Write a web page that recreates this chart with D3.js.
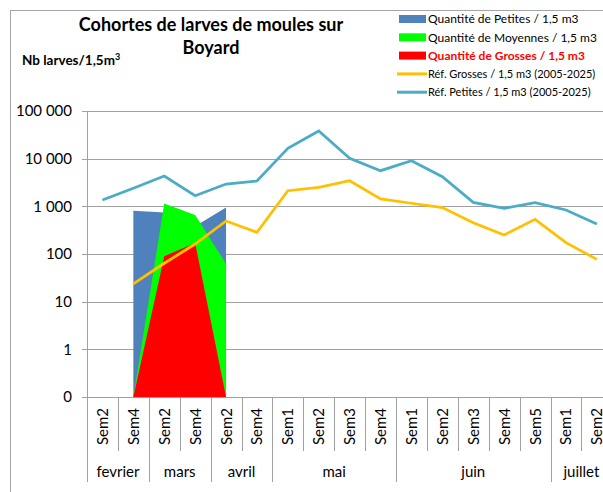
<!DOCTYPE html>
<meta charset="utf-8">
<script src="https://d3js.org/d3.v7.min.js"></script>
<style>
  body { margin: 0; background: #fff; }
  text { font-family: Lato, "Open Sans", sans-serif; fill: #000; }
</style>
<body>
<svg width="603" height="492"></svg>
<script>
  // categories
  var weeks = ["Sem2", "Sem4", "Sem2", "Sem4", "Sem2", "Sem4", "Sem1", "Sem2", "Sem3", "Sem4",
    "Sem1", "Sem2", "Sem3", "Sem4", "Sem5", "Sem1", "Sem2"];
  var months = ["fevrier", "mars", "avril", "mai", "juin", "juillet"];
  var monthWeeks = [2, 2, 2, 4, 5, 2];

  // series (null = no value)
  var petites = [null, 810, 740, 380, 950, null, null, null, null, null, null, null, null, null, null, null, null];
  var moyennes = [null, 0, 1150, 660, 62, null, null, null, null, null, null, null, null, null, null, null, null];
  var grosses = [null, 0, 90, 170, 0, null, null, null, null, null, null, null, null, null, null, null, null];
  var refGrosses = [null, 23.5, 64, 162, 492, 285, 2130, 2500, 3450, 1430, 1160, 940, 454, 250, 534, 173, 77];
  var refPetites = [1360, 2400, 4330, 1670, 2940, 3400, 16500, 38000, 10200, 5600, 9060, 4190, 1210, 910, 1190, 840, 425];

  var yTicks = [0.1, 1, 10, 100, 1000, 10000, 100000];
  var yTickLabels = ["0", "1", "10", "100", "1 000", "10 000", "100 000"];

  var svg = d3.select("svg");

  // chart frame
  svg.append("rect")
    .attr("x", 10.5).attr("y", 10.5)
    .attr("width", 700).attr("height", 600)
    .attr("fill", "none").attr("stroke", "#a6a6a6");

  var left = 87, step = 30.9;
  var x = d3.scaleBand().domain(d3.range(weeks.length)).range([left, left + step * weeks.length]);
  var y = d3.scaleLog().domain([0.1, 100000]).range([397, 111]);
  var cx = function (i) { return x(i) + x.bandwidth() / 2; };
  var yv = function (v) { return y(Math.max(v, 0.1)); };

  // gridlines
  svg.append("g").selectAll("line")
    .data(yTicks).enter().append("line")
    .attr("x1", left - 5).attr("x2", 603)
    .attr("y1", function (d) { return Math.round(y(d)) + 0.5; })
    .attr("y2", function (d) { return Math.round(y(d)) + 0.5; })
    .attr("stroke", "#a0a0a0");

  svg.append("line")
    .attr("x1", left + 0.5).attr("x2", left + 0.5)
    .attr("y1", y(100000)).attr("y2", 397)
    .attr("stroke", "#a0a0a0");

  svg.append("g").selectAll("text")
    .data(yTicks).enter().append("text")
    .attr("x", 72)
    .attr("y", function (d) { return y(d); })
    .attr("dy", "0.35em")
    .attr("text-anchor", "end")
    .style("font-size", "15px")
    .text(function (d, i) { return yTickLabels[i]; });

  // x axis separators
  var monthBounds = [0];
  monthWeeks.reduce(function (acc, n) { monthBounds.push(acc + n); return acc + n; }, 0);
  svg.append("g").selectAll("line")
    .data(d3.range(weeks.length + 1)).enter().append("line")
    .attr("x1", function (i) { return Math.round(left + i * step) + 0.5; })
    .attr("x2", function (i) { return Math.round(left + i * step) + 0.5; })
    .attr("y1", 397)
    .attr("y2", function (i) { return monthBounds.indexOf(i) >= 0 ? 482 : 451; })
    .attr("stroke", "#a0a0a0");

  svg.append("g").selectAll("text")
    .data(weeks).enter().append("text")
    .attr("transform", function (d, i) { return "translate(" + (cx(i) + 5.5) + ",408) rotate(-90)"; })
    .attr("text-anchor", "end")
    .style("font-size", "15px")
    .text(function (d) { return d; });

  svg.append("g").selectAll("text")
    .data(months).enter().append("text")
    .attr("x", function (d, i) { return left + step * (monthBounds[i] + monthBounds[i + 1]) / 2; })
    .attr("y", 477)
    .attr("text-anchor", "middle")
    .style("font-size", "15px")
    .text(function (d) { return d; });

  // areas
  function areaFor(data) {
    return d3.area()
      .defined(function (d) { return d !== null; })
      .x(function (d, i) { return cx(i); })
      .y0(y(0.1))
      .y1(function (d) { return yv(d); })(data);
  }
  svg.append("path").attr("d", areaFor(petites)).attr("fill", "#4f81bd");
  svg.append("path").attr("d", areaFor(moyennes)).attr("fill", "#00ff00");
  svg.append("path").attr("d", areaFor(grosses)).attr("fill", "#ff0000");

  // lines
  function lineFor(data) {
    return d3.line()
      .defined(function (d) { return d !== null; })
      .x(function (d, i) { return cx(i); })
      .y(function (d) { return yv(d); })(data);
  }
  svg.append("path").attr("d", lineFor(refGrosses))
    .attr("fill", "none").attr("stroke", "#ffc000").attr("stroke-width", 2.75);
  svg.append("path").attr("d", lineFor(refPetites))
    .attr("fill", "none").attr("stroke", "#4bacc6").attr("stroke-width", 2.75);

  // title
  svg.append("text")
    .attr("x", 211).attr("y", 31)
    .attr("text-anchor", "middle")
    .style("font-size", "18px").style("font-weight", "bold")
    .text("Cohortes de larves de moules sur");
  svg.append("text")
    .attr("x", 211).attr("y", 54)
    .attr("text-anchor", "middle")
    .style("font-size", "18px").style("font-weight", "bold")
    .text("Boyard");

  var yt = svg.append("text")
    .attr("x", 22).attr("y", 65)
    .style("font-size", "13.5px").style("font-weight", "bold");
  yt.append("tspan").text("Nb larves/1,5m");
  yt.append("tspan").attr("dy", -5).style("font-size", "9px").text("3");

  // legend
  var legend = [
    { label: "Quantité de Petites / 1,5 m3", color: "#4f81bd", type: "rect", size: 12 },
    { label: "Quantité de Moyennes / 1,5 m3", color: "#00ff00", type: "rect", size: 12 },
    { label: "Quantité de Grosses / 1,5 m3", color: "#ff0000", type: "rect", size: 12, bold: true },
    { label: "Réf. Grosses / 1,5 m3 (2005-2025)", color: "#ffc000", type: "line", size: 11 },
    { label: "Réf. Petites / 1,5 m3 (2005-2025)", color: "#4bacc6", type: "line", size: 11 }
  ];
  var lg = svg.append("g").selectAll("g")
    .data(legend).enter().append("g")
    .attr("transform", function (d, i) { return "translate(0," + (19 + i * 18.3) + ")"; });
  lg.filter(function (d) { return d.type === "rect"; }).append("rect")
    .attr("x", 399).attr("y", -4).attr("width", 27).attr("height", 8)
    .attr("fill", function (d) { return d.color; });
  lg.filter(function (d) { return d.type === "line"; }).append("line")
    .attr("x1", 397).attr("x2", 427)
    .attr("stroke", function (d) { return d.color; }).attr("stroke-width", 3);
  lg.append("text")
    .attr("x", 428).attr("dy", "0.35em")
    .style("font-size", function (d) { return d.size + "px"; })
    .style("font-weight", function (d) { return d.bold ? "bold" : "normal"; })
    .style("fill", function (d) { return d.bold ? "#ff0000" : "#000"; })
    .text(function (d) { return d.label; });
</script>
</body>
